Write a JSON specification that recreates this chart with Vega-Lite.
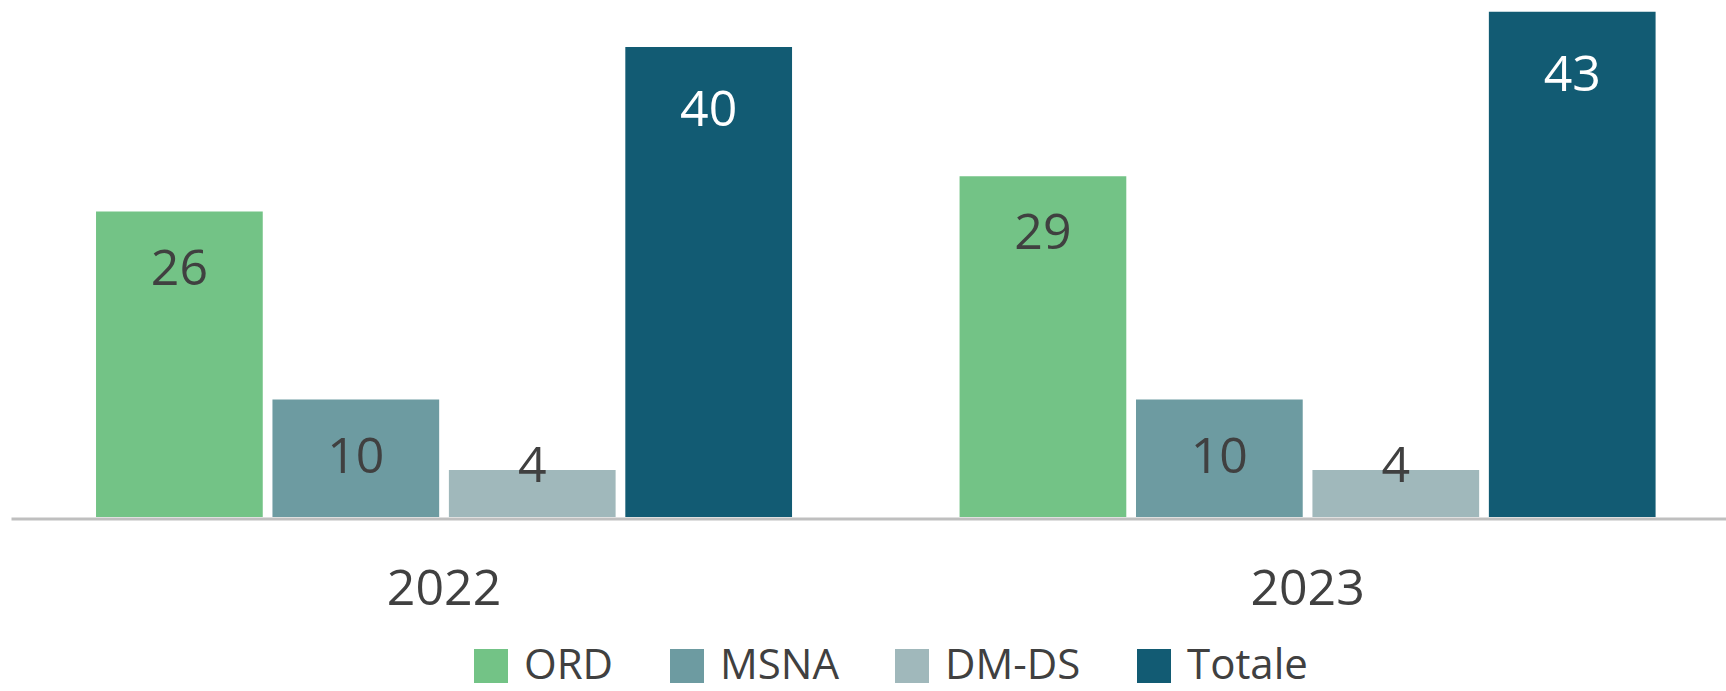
{
  "$schema": "https://vega.github.io/schema/vega-lite/v6.json",
  "width": 1715,
  "height": 517,
  "autosize": {"type": "none"},
  "padding": {"left": 11, "top": 0, "right": 0, "bottom": 174},
  "background": "white",
  "config": {"font": "Open Sans", "view": {"stroke": null}},
  "data": {
    "values": [
      {"year": "2022", "category": "ORD", "value": 26},
      {"year": "2022", "category": "MSNA", "value": 10},
      {"year": "2022", "category": "DM-DS", "value": 4},
      {"year": "2022", "category": "Totale", "value": 40},
      {"year": "2023", "category": "ORD", "value": 29},
      {"year": "2023", "category": "MSNA", "value": 10},
      {"year": "2023", "category": "DM-DS", "value": 4},
      {"year": "2023", "category": "Totale", "value": 43}
    ]
  },
  "encoding": {
    "x": {
      "field": "year",
      "type": "nominal",
      "scale": {"paddingInner": 0.194, "paddingOuter": 0.09, "align": 0.547},
      "axis": {
        "title": null,
        "labelAngle": 0,
        "domain": true,
        "domainColor": "#BFBFBF",
        "domainWidth": 3,
        "ticks": false,
        "offset": 1.5,
        "labelFontSize": 50,
        "labelColor": "#404040",
        "labelBaseline": "alphabetic",
        "labelPadding": 86
      }
    },
    "xOffset": {
      "field": "category",
      "type": "nominal",
      "sort": ["ORD", "MSNA", "DM-DS", "Totale"],
      "scale": {"paddingInner": 0.055, "paddingOuter": 0}
    },
    "y": {
      "field": "value",
      "type": "quantitative",
      "scale": {"domain": [0, 44], "nice": false, "zero": true},
      "axis": null
    }
  },
  "layer": [
    {
      "mark": {"type": "bar"},
      "encoding": {
        "color": {
          "field": "category",
          "type": "nominal",
          "sort": ["ORD", "MSNA", "DM-DS", "Totale"],
          "scale": {
            "domain": ["ORD", "MSNA", "DM-DS", "Totale"],
            "range": ["#73C386", "#6D9BA1", "#A0B8BB", "#125B73"]
          },
          "legend": {
            "orient": "none",
            "legendX": 459,
            "legendY": 645,
            "direction": "horizontal",
            "title": null,
            "symbolType": "square",
            "symbolSize": 1156,
            "symbolStrokeWidth": 0,
            "symbolOpacity": 1,
            "labelFontSize": 42,
            "labelColor": "#404040",
            "labelOffset": 12,
            "columnPadding": 52
          }
        }
      }
    },
    {
      "transform": [{"filter": "datum.category === 'ORD' || datum.category === 'MSNA'"}],
      "mark": {"type": "text", "baseline": "alphabetic", "dy": 73, "fontSize": 50, "color": "#404040"},
      "encoding": {"text": {"field": "value", "type": "quantitative"}}
    },
    {
      "transform": [{"filter": "datum.category === 'Totale'"}],
      "mark": {"type": "text", "baseline": "alphabetic", "dy": 79, "fontSize": 50, "color": "#FFFFFF"},
      "encoding": {"text": {"field": "value", "type": "quantitative"}}
    },
    {
      "transform": [{"filter": "datum.category === 'DM-DS'"}],
      "mark": {"type": "text", "baseline": "alphabetic", "dy": 12, "fontSize": 50, "color": "#404040"},
      "encoding": {"text": {"field": "value", "type": "quantitative"}}
    }
  ]
}
